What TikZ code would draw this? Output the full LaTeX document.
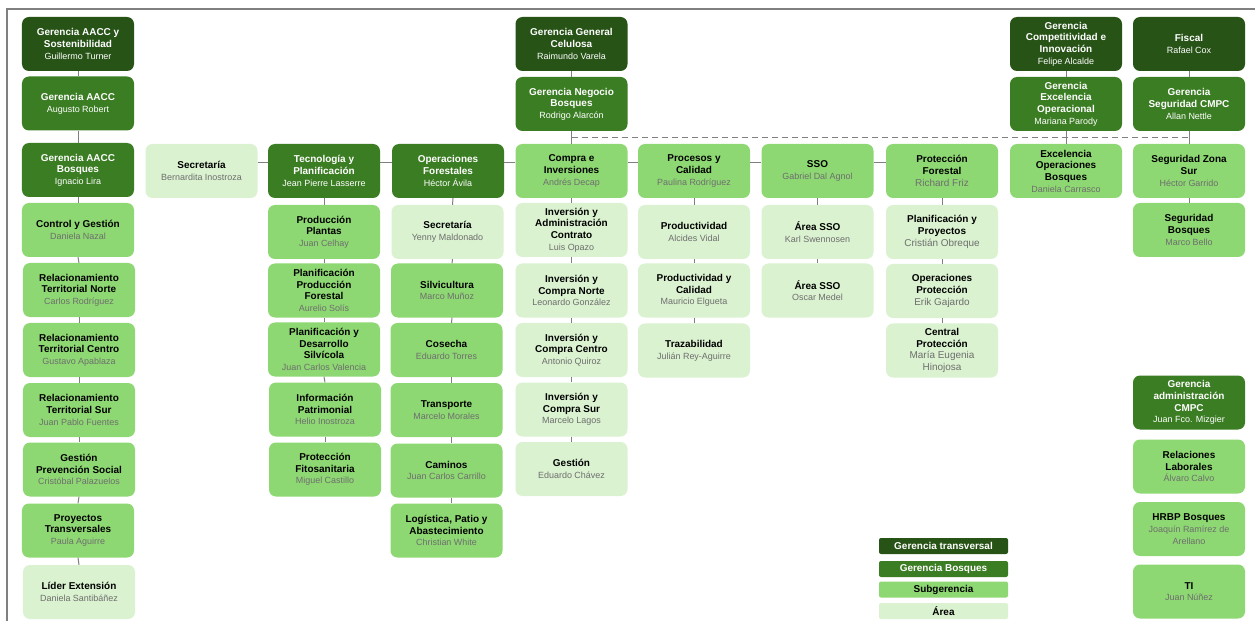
\documentclass[tikz,border=0pt]{standalone}
\usepackage{fontspec}
\setmainfont{Liberation Sans}
\definecolor{gtrans}{HTML}{275317}
\definecolor{gbosq}{HTML}{3B7D23}
\definecolor{gsub}{HTML}{8ED873}
\definecolor{garea}{HTML}{DAF2D0}
\definecolor{nmgrey}{HTML}{6E6E6E}
\definecolor{lnk}{HTML}{808080}
\newcommand{\nm}[1]{{\fontsize{9}{11}\selectfont\mdseries\color{nmgrey}#1}}
\newcommand{\nmb}[1]{{\fontsize{10}{12.5}\selectfont\mdseries\color{nmgrey}#1}}
\newcommand{\nw}[1]{{\fontsize{9}{11}\selectfont\mdseries #1}}
\tikzset{
 box/.style={rounded corners=7bp, minimum width=112bp, minimum height=54bp, inner sep=1bp, align=center, font=\fontsize{10}{11.7}\selectfont\bfseries},
 trans/.style={box, fill=gtrans, text=white},
 bosq/.style={box, fill=gbosq, text=white},
 subg/.style={box, fill=gsub, text=black},
 area/.style={box, fill=garea, text=black},
 link/.style={draw=lnk, line width=1bp},
 frameline/.style={draw=lnk, line width=1.5bp},
 leg/.style={rounded corners=2bp, minimum width=129bp, minimum height=16bp, inner sep=0pt, font=\fontsize{10}{11}\selectfont\bfseries},
}
\begin{document}
\begin{tikzpicture}[x=1bp,y=-1bp]
\useasboundingbox (0,0) rectangle (1255,621);
\fill[white] (0,0) rectangle (1255,621);
\draw[frameline] (7,621) -- (7,9) -- (1255,9);

% column 1
\node[trans] (aacc1) at (78,44) {Gerencia AACC y\\Sostenibilidad\\\nw{Guillermo Turner}};
\node[bosq] (aacc2) at (78,103.5) {Gerencia AACC\\\nw{Augusto Robert}};
\node[bosq] (aacc3) at (78,170) {Gerencia AACC\\Bosques\\\nw{Ignacio Lira}};
\node[subg] (c1) at (78,230) {Control y Gestión\\\nm{Daniela Nazal}};
\node[subg] (c2) at (79,290) {Relacionamiento\\Territorial Norte\\\nm{Carlos Rodríguez}};
\node[subg] (c3) at (79,350) {Relacionamiento\\Territorial Centro\\\nm{Gustavo Apablaza}};
\node[subg] (c4) at (79,410) {Relacionamiento\\Territorial Sur\\\nm{Juan Pablo Fuentes}};
\node[subg] (c5) at (79,469.5) {Gestión\\Prevención Social\\\nm{Cristóbal Palazuelos}};
\node[subg] (c6) at (78,530.5) {Proyectos\\Transversales\\\nm{Paula Aguirre}};
\node[area] (c7) at (79,592) {Líder Extensión\\\nm{Daniela Santibáñez}};

% top managers
\node[trans] (ggc) at (571.5,44) {Gerencia General\\Celulosa\\\nw{Raimundo Varela}};
\node[bosq] (gnb) at (571.5,104) {Gerencia Negocio\\Bosques\\\nw{Rodrigo Alarcón}};
\node[trans] (gci) at (1066,44) {Gerencia\\Competitividad e\\Innovación\\\nw{Felipe Alcalde}};
\node[trans] (fis) at (1189,44) {Fiscal\\\nw{Rafael Cox}};
\node[bosq] (geo) at (1066,104) {Gerencia\\Excelencia\\Operacional\\\nw{Mariana Parody}};
\node[bosq] (gsc) at (1189,104) {Gerencia\\Seguridad CMPC\\\nw{Allan Nettle}};

% main row
\node[area] (sec1) at (201.5,171) {Secretaría\\\nm{Bernardita Inostroza}};
\node[bosq] (tec) at (324,171) {Tecnología y\\Planificación\\\nw{Jean Pierre Lasserre}};
\node[bosq] (ope) at (448,171) {Operaciones\\Forestales\\\nw{Héctor Ávila}};
\node[subg] (com) at (571.5,171) {Compra e\\Inversiones\\\nm{Andrés Decap}};
\node[subg] (pro) at (694,171) {Procesos y\\Calidad\\\nm{Paulina Rodríguez}};
\node[subg] (sso) at (817.5,171) {SSO\\\nm{Gabriel Dal Agnol}};
\node[subg] (pfo) at (942,171) {Protección\\Forestal\\\nmb{Richard Friz}};
\node[subg] (exb) at (1066,171) {Excelencia\\Operaciones\\Bosques\\\nm{Daniela Carrasco}};
\node[subg] (szs) at (1189,171) {Seguridad Zona\\Sur\\\nm{Héctor Garrido}};

% tecnologia column
\node[subg] (t1) at (324,232) {Producción\\Plantas\\\nm{Juan Celhay}};
\node[subg] (t2) at (324,290.5) {Planificación\\Producción\\Forestal\\\nm{Aurelio Solís}};
\node[subg] (t3) at (324,349.5) {Planificación y\\Desarrollo\\Silvícola\\\nm{Juan Carlos Valencia}};
\node[subg] (t4) at (325,409.5) {Información\\Patrimonial\\\nm{Helio Inostroza}};
\node[subg] (t5) at (325,469.5) {Protección\\Fitosanitaria\\\nm{Miguel Castillo}};

% operaciones column
\node[area] (o1) at (447.5,232) {Secretaría\\\nm{Yenny Maldonado}};
\node[subg] (o2) at (447,290.5) {Silvicultura\\\nm{Marco Muñoz}};
\node[subg] (o3) at (446.5,350) {Cosecha\\\nm{Eduardo Torres}};
\node[subg] (o4) at (446.5,410) {Transporte\\\nm{Marcelo Morales}};
\node[subg] (o5) at (446.5,470.5) {Caminos\\\nm{Juan Carlos Carrillo}};
\node[subg] (o6) at (446.5,530.5) {Logística, Patio y\\Abastecimiento\\\nm{Christian White}};

% compra column
\node[area] (k1) at (571.5,230) {Inversión y\\Administración\\Contrato\\\nm{Luis Opazo}};
\node[area] (k2) at (571.5,290.5) {Inversión y\\Compra Norte\\\nm{Leonardo González}};
\node[area] (k3) at (571.5,350) {Inversión y\\Compra Centro\\\nm{Antonio Quiroz}};
\node[area] (k4) at (571.5,409.5) {Inversión y\\Compra Sur\\\nm{Marcelo Lagos}};
\node[area] (k5) at (571.5,469) {Gestión\\\nm{Eduardo Chávez}};

% procesos column
\node[area] (p1) at (694,232) {Productividad\\\nm{Alcides Vidal}};
\node[area] (p2) at (694,290.5) {Productividad y\\Calidad\\\nm{Mauricio Elgueta}};
\node[area] (p3) at (694,350.5) {Trazabilidad\\\nm{Julián Rey-Aguirre}};

% sso column
\node[area] (s1) at (817.5,232) {Área SSO\\\nm{Karl Swennosen}};
\node[area] (s2) at (817.5,290.5) {Área SSO\\\nm{Oscar Medel}};

% proteccion column
\node[area] (f1) at (942,232) {Planificación y\\Proyectos\\\nmb{Cristián Obreque}};
\node[area] (f2) at (942,291) {Operaciones\\Protección\\\nmb{Erik Gajardo}};
\node[area] (f3) at (942,350.5) {Central\\Protección\\\nmb{María Eugenia}\\\nmb{Hinojosa}};

% seguridad column
\node[subg] (sgb) at (1189,230) {Seguridad\\Bosques\\\nm{Marco Bello}};

% administracion
\node[bosq] (gac) at (1189,402.5) {Gerencia\\administración\\CMPC\\\nw{Juan Fco. Mizgier}};
\node[subg] (rl) at (1189,466.5) {Relaciones\\Laborales\\\nm{Álvaro Calvo}};
\node[subg] (hr) at (1189,529) {HRBP Bosques\\\nm{Joaquín Ramírez de}\\\nm{Arellano}};
\node[subg] (ti) at (1189,591.5) {TI\\\nm{Juan Núñez}};

% legend
\node[leg, fill=gtrans, text=white] (l1) at (943.5,546) {Gerencia transversal};
\node[leg, fill=gbosq, text=white] (l2) at (943.5,569) {Gerencia Bosques};
\node[leg, fill=gsub, text=black] (l3) at (943.5,589.5) {Subgerencia};
\node[leg, fill=garea, text=black] (l4) at (943.5,611) {Área};

% connectors
\foreach \a/\b in {aacc1/aacc2,aacc2/aacc3,aacc3/c1,c1/c2,c2/c3,c3/c4,c4/c5,c5/c6,c6/c7,
  ggc/gnb,gnb/com,gci/geo,geo/exb,fis/gsc,gsc/szs,szs/sgb,
  tec/t1,t1/t2,t2/t3,t3/t4,t4/t5,
  com/k1,k1/k2,k2/k3,k3/k4,k4/k5,
  pro/p1,p1/p2,p2/p3,
  sso/s1,s1/s2,
  pfo/f1,f1/f2,f2/f3}
  \draw[link] (\a.south) -- (\b.north);
\foreach \a/\b in {ope/o1,o1/o2,o2/o3,o3/o4,o4/o5,o5/o6}
  \draw[link] ([xshift=5bp]\a.south) -- ([xshift=5bp]\b.north);
\foreach \a/\b in {sec1/tec,tec/ope,ope/com,com/pro,pro/sso,sso/pfo}
  \draw[link] ([yshift=8bp]\a.east) -- ([yshift=8bp]\b.west);
\draw[link, dash pattern=on 6bp off 4bp] ([yshift=-6bp]gnb.south) -- ([yshift=-6bp]gsc.south);
\end{tikzpicture}
\end{document}
